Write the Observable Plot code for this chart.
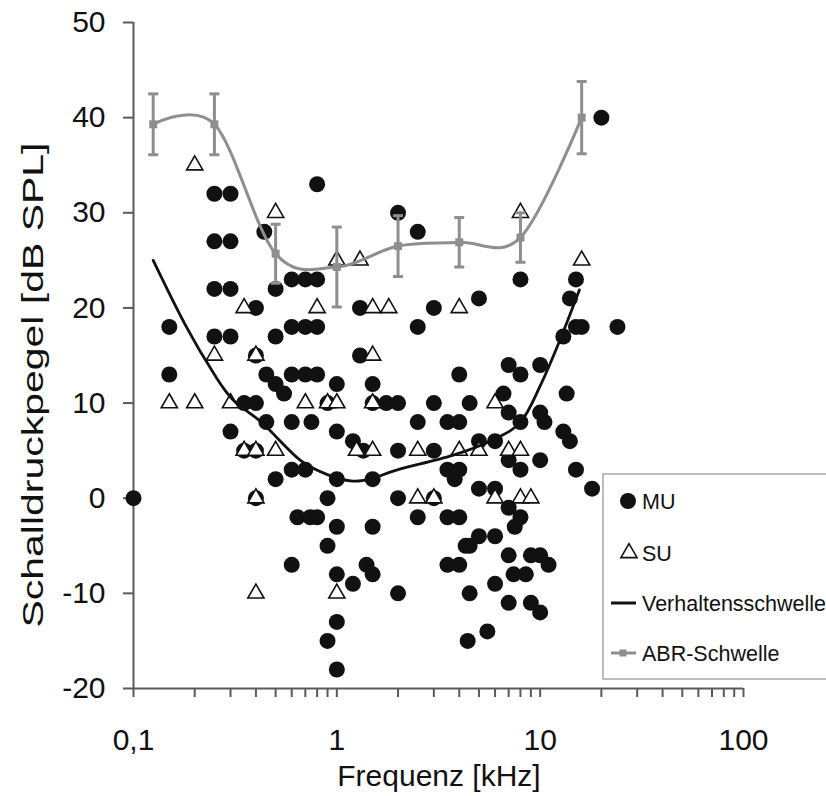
<!DOCTYPE html>
<html><head><meta charset="utf-8">
<script src="https://cdn.jsdelivr.net/npm/d3@7"></script>
<script src="https://cdn.jsdelivr.net/npm/@observablehq/plot@0.6"></script>
<style>body{margin:0;background:#fff}</style>
</head><body><div id="chart"></div>
<script>
// MU (multi-unit) thresholds: frequency [kHz], level [dB SPL]
const muFreq = [0.1,0.15,0.15,0.25,0.3,0.25,0.3,0.25,0.3,0.25,0.3,0.8,0.44,0.6,0.7,0.8,0.5,0.4,0.5,0.6,0.7,0.8,0.4,0.45,0.6,0.7,0.8,1,0.5,0.55,0.35,0.4,0.9,0.3,0.45,0.6,0.75,1,0.35,0.4,0.6,0.7,0.5,1,0.4,0.9,0.64,0.74,0.8,1,0.9,0.6,1,1.2,1,0.9,1,
  2,2.5,8,1.3,3,5,2.5,1.3,1.5,4,7,8,10,13,14,15,20,15,16,24,13.5,6.6,7,10,10.5,8,13,14,5,6,7,10,8,15,18,5,6,
  1.5,1.75,2,3,4.5,2.5,3.5,4,1.2,1.35,2,3,1.5,3.5,4,3.8,2,3,7,8,7.5,1.5,2.5,3.5,4,4.3,4.5,5,6,7,9,10,11,1.4,1.5,2,3.5,4,4.5,6,7.4,8.5,7,9,10,5.5,4.4];
const muDb = [0,18,13,32,32,27,27,22,22,17,17,33,28,23,23,23,22,20,17,18,18,18,15,13,13,13,13,12,12,11,10,10,10,7,8,8,8,7,5,5,3,3,2,2,0,0,-2,-2,-2,-3,-5,-7,-8,-9,-13,-15,-18,
  30,28,23,20,20,21,18,15,12,13,14,13,14,17,21,23,40,18,18,18,11,11,9,9,8,8,7,6,6,6,4,4,3,3,1,1,1,
  10,10,10,10,10,8,8,8,6,5,5,5,2,3,3,2,0,0,-1,-2,-3,-3,-2,-2,-2,-5,-5,-4,-4,-6,-6,-6,-7,-7,-8,-10,-7,-7,-10,-9,-8,-8,-11,-11,-12,-14,-15];

// SU (single-unit) thresholds
const suFreq = [0.2,0.5,1,1.3,8,16,0.35,0.8,1.5,1.8,4,0.25,0.4,1.5,0.15,0.2,0.3,0.7,0.9,1,1.5,6,0.35,0.4,0.5,1.25,1.5,2.5,4,5,7,8,0.4,2.5,3,6,8,9,0.4,1];
const suDb   = [35,30,25,25,30,25,20,20,20,20,20,15,15,15,10,10,10,10,10,10,10,10,5,5,5,5,5,5,5,5,5,5,0,0,0,0,0,0,-10,-10];

// Behavioural threshold (Verhaltensschwelle)
const behFreq = [0.125,0.18,0.25,0.31,0.43,0.66,0.92,1.2,1.5,2,3.7,5.8,8,10,12.5,15.6];
const behDb   = [25,18.2,13,10.3,7.9,4,2.4,1.8,2.1,3,4.5,6.1,8,11.8,16.6,21.9];

// ABR threshold with error bars
const abrFreq = [0.125,0.25,0.5,1,2,4,8,16];
const abrDb   = [39.3,39.3,25.7,24.3,26.5,26.9,27.4,40];
const abrErr  = [3.2,3.2,3.1,4.2,3.2,2.6,2.6,3.8];

const yTicks = [-20,-10,0,10,20,30,40,50];
const xMajor = [0.1,1,10,100];
const xMajorLabels = ["0,1","1","10","100"];
const xMinor = [0.1,0.2,0.3,0.4,0.5,0.6,0.7,0.8,0.9,1,2,3,4,5,6,7,8,9,10,20,30,40,50,60,70,80,90,100];

const mu = muFreq.map((f,i)=>({f, db: muDb[i]}));
const su = suFreq.map((f,i)=>({f, db: suDb[i]}));
const beh = behFreq.map((f,i)=>({f, db: behDb[i]}));
const abr = abrFreq.map((f,i)=>({f, db: abrDb[i], lo: abrDb[i]-abrErr[i], hi: abrDb[i]+abrErr[i]}));

const capSymbol = {draw(ctx, size){ const w = Math.sqrt(size/Math.PI); ctx.moveTo(-w,0); ctx.lineTo(w,0); }};

const FONT = "'Liberation Sans', Arial, sans-serif";
const axisGray = "#5a5a5a";
const abrGray = "#8e8e8e";

const chart = Plot.plot({
  width: 826, height: 796,
  marginLeft: 133, marginRight: 83, marginTop: 22, marginBottom: 108,
  style: {fontFamily: FONT, fontSize: "30px", color: "#111", background: "#fff", overflow: "visible"},
  x: {type: "log", domain: [0.1, 100]},
  y: {domain: [-20, 50]},
  marks: [
    Plot.ruleX([0.1], {stroke: axisGray, strokeWidth: 2}),
    Plot.ruleY([-20], {stroke: axisGray, strokeWidth: 2}),
    Plot.axisY({ticks: yTicks, tickSize: 10, tickPadding: 18, stroke: axisGray, strokeWidth: 2, tickFormat: d => String(d), label: null, fill: "#111"}),
    Plot.axisX({ticks: xMinor, tickSize: 9, stroke: axisGray, strokeWidth: 2, tickFormat: () => "", label: null}),
    Plot.axisX({ticks: xMajor, tickSize: 0, tickPadding: 40, tickFormat: d => xMajorLabels[xMajor.indexOf(d)], label: null, fill: "#111"}),
    Plot.dot(mu, {x: "f", y: "db", r: 8, fill: "#111", stroke: "none"}),
    Plot.dot(su, {x: "f", y: "db", symbol: "triangle", r: 6, fill: "#fff", stroke: "#111", strokeWidth: 1.6}),
    Plot.line(beh, {x: "f", y: "db", curve: "cardinal", stroke: "#111", strokeWidth: 2.8}),
    Plot.ruleX(abr, {x: "f", y1: "lo", y2: "hi", stroke: abrGray, strokeWidth: 3}),
    Plot.dot(abr, {x: "f", y: "lo", symbol: capSymbol, r: 5, stroke: abrGray, strokeWidth: 3}),
    Plot.dot(abr, {x: "f", y: "hi", symbol: capSymbol, r: 5, stroke: abrGray, strokeWidth: 3}),
    Plot.line(abr, {x: "f", y: "db", curve: "cardinal", stroke: abrGray, strokeWidth: 3}),
    Plot.dot(abr, {x: "f", y: "db", symbol: "square", r: 4.5, fill: abrGray, stroke: "none"})
  ]
});

const svg = d3.select(chart);
// axis titles
svg.append("text").attr("x", 439).attr("y", 786).attr("text-anchor", "middle")
  .attr("font-family", FONT).attr("font-size", 30).attr("fill", "#111").text("Frequenz [kHz]");
svg.append("text").attr("transform", "translate(43,385) rotate(-90)").attr("text-anchor", "middle")
  .attr("font-family", FONT).attr("font-size", 30).attr("fill", "#111")
  .attr("textLength", 485).attr("lengthAdjust", "spacingAndGlyphs").text("Schalldruckpegel [dB SPL]");

// legend
const lg = svg.append("g").attr("font-family", FONT).attr("font-size", 21.5).attr("fill", "#111").attr("text-anchor", "start");
lg.append("rect").attr("x", 603).attr("y", 474).attr("width", 260).attr("height", 205)
  .attr("fill", "#fff").attr("stroke", "#a8a8a8").attr("stroke-width", 1.5);
lg.append("circle").attr("cx", 628).attr("cy", 501).attr("r", 8).attr("fill", "#111");
lg.append("path").attr("d", d3.symbol(d3.symbolTriangle, Math.PI*36)()).attr("transform", "translate(629,553)")
  .attr("fill", "#fff").attr("stroke", "#111").attr("stroke-width", 1.6);
lg.append("line").attr("x1", 611).attr("x2", 636).attr("y1", 603).attr("y2", 603).attr("stroke", "#111").attr("stroke-width", 3);
lg.append("line").attr("x1", 611).attr("x2", 636).attr("y1", 653).attr("y2", 653).attr("stroke", abrGray).attr("stroke-width", 3);
lg.append("rect").attr("x", 619.5).attr("y", 649.5).attr("width", 7).attr("height", 7).attr("fill", abrGray);
[["MU",501],["SU",553],["Verhaltensschwelle",603],["ABR-Schwelle",653]].forEach(([t,y]) => {
  lg.append("text").attr("x", 642).attr("y", y).attr("dy", "0.35em").attr("text-anchor", "start").text(t);
});

document.getElementById("chart").appendChild(chart);
</script>
</body></html>
